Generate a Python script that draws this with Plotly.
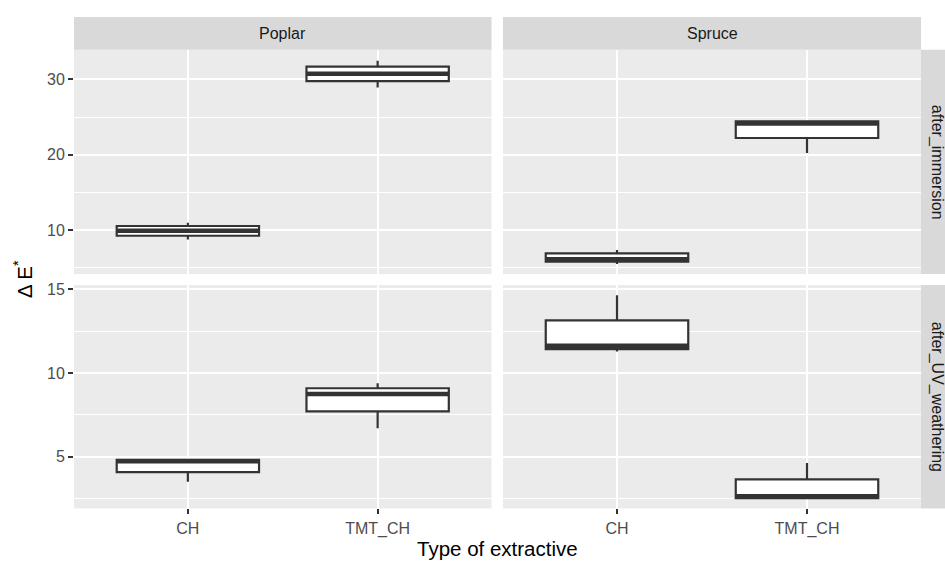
import plotly.graph_objects as go

W, H = 945, 561

# ---------------- data ----------------
species = ["Poplar", "Spruce"]
treatments = ["after_immersion", "after_UV_weathering"]
extractives = ["CH", "TMT_CH"]

# five-number summaries per panel, ordered by extractives (CH, TMT_CH)
imm_poplar_low = [8.75, 28.94]
imm_poplar_q1 = [9.24, 29.77]
imm_poplar_med = [9.90, 30.76]
imm_poplar_q3 = [10.53, 31.69]
imm_poplar_high = [10.97, 32.48]

imm_spruce_low = [5.49, 20.23]
imm_spruce_q1 = [5.80, 22.22]
imm_spruce_med = [6.13, 24.14]
imm_spruce_q3 = [6.90, 24.44]
imm_spruce_high = [7.35, 24.44]

uv_poplar_low = [3.50, 6.70]
uv_poplar_q1 = [4.07, 7.71]
uv_poplar_med = [4.72, 8.75]
uv_poplar_q3 = [4.80, 9.09]
uv_poplar_high = [4.80, 9.39]

uv_spruce_low = [11.29, 2.51]
uv_spruce_q1 = [11.43, 2.51]
uv_spruce_med = [11.64, 2.62]
uv_spruce_q3 = [13.15, 3.63]
uv_spruce_high = [14.66, 4.61]

panels = [
    # (row, col, low, q1, med, q3, high)
    (0, 0, imm_poplar_low, imm_poplar_q1, imm_poplar_med, imm_poplar_q3, imm_poplar_high),
    (0, 1, imm_spruce_low, imm_spruce_q1, imm_spruce_med, imm_spruce_q3, imm_spruce_high),
    (1, 0, uv_poplar_low, uv_poplar_q1, uv_poplar_med, uv_poplar_q3, uv_poplar_high),
    (1, 1, uv_spruce_low, uv_spruce_q1, uv_spruce_med, uv_spruce_q3, uv_spruce_high),
]

row_ranges = [[4.15, 33.95], [1.90, 15.27]]
row_dtick = [10, 5]
row_minor = [5, 2.5]

# ---------------- layout geometry (pixels) ----------------
col_px = [(74, 491.5), (503, 921)]
row_px = [(46, 272), (283, 508)]
strip_top = (13, 46)
strip_right = (921, 945)
strip_right_text_x = 937

BOX_W = 0.75

def fx(p):
    return p / W

def fy(p):
    return 1 - p / H

fig = go.Figure()
layout = dict(
    width=W, height=H,
    margin=dict(l=0, r=0, t=0, b=0),
    paper_bgcolor="white",
    plot_bgcolor="#EBEBEB",
    showlegend=False,
    font=dict(family="Liberation Sans, Arial, sans-serif", color="#4D4D4D", size=16),
)

shapes = []
annotations = []

for k, (r, c, low, q1, med, q3, high) in enumerate(panels):
    idx = k + 1
    xa = "x" if idx == 1 else f"x{idx}"
    ya = "y" if idx == 1 else f"y{idx}"
    xpos = list(range(len(extractives)))
    fig.add_trace(go.Box(
        x=xpos, q1=q1, median=med, q3=q3, lowerfence=low, upperfence=high,
        width=BOX_W, whiskerwidth=0, boxpoints=False,
        fillcolor="white", line=dict(color="#333333", width=2.2),
        xaxis=xa, yaxis=ya, hoverinfo="skip",
    ))
    # thicker median line, as ggplot draws it
    for i, m in enumerate(med):
        fig.add_trace(go.Scatter(
            x=[xpos[i] - BOX_W / 2, xpos[i] + BOX_W / 2], y=[m, m],
            mode="lines", line=dict(color="#333333", width=4.5),
            xaxis=xa, yaxis=ya, hoverinfo="skip",
        ))
    x0, x1 = col_px[c]
    y0, y1 = row_px[r]
    layout[f"xaxis{'' if idx == 1 else idx}"] = dict(
        domain=[fx(x0), fx(x1)], anchor=ya, range=[-0.6, 1.6],
        tickmode="array", tickvals=xpos, ticktext=extractives,
        showticklabels=(r == 1), ticks="outside" if r == 1 else "",
        ticklen=5, tickwidth=1.5, tickcolor="#333333",
        showgrid=True, gridcolor="white", gridwidth=2,
        zeroline=False, showline=False,
        tickfont=dict(size=16, color="#4D4D4D"),
    )
    layout[f"yaxis{'' if idx == 1 else idx}"] = dict(
        domain=[fy(y1), fy(y0)], anchor=xa, range=row_ranges[r],
        tick0=0, dtick=row_dtick[r],
        showticklabels=(c == 0), ticks="outside" if c == 0 else "",
        ticklen=5, tickwidth=1.5, tickcolor="#333333",
        showgrid=True, gridcolor="white", gridwidth=2,
        minor=dict(dtick=row_minor[r], tick0=0, showgrid=True,
                   gridcolor="white", gridwidth=1, ticks=""),
        zeroline=False, showline=False,
        tickfont=dict(size=16, color="#4D4D4D"),
    )

# strips on top (species)
for c, name in enumerate(species):
    x0, x1 = col_px[c]
    shapes.append(dict(type="rect", xref="paper", yref="paper",
                       x0=fx(x0), x1=fx(x1), y0=fy(strip_top[1]), y1=fy(strip_top[0]),
                       fillcolor="#D9D9D9", line=dict(width=0), layer="below"))
    annotations.append(dict(text=name, xref="paper", yref="paper",
                            x=fx((x0 + x1) / 2), y=fy((strip_top[0] + strip_top[1]) / 2),
                            showarrow=False, xanchor="center", yanchor="middle",
                            font=dict(size=16, color="#1A1A1A")))

# strips on right (treatments)
for r, name in enumerate(treatments):
    y0, y1 = row_px[r]
    shapes.append(dict(type="rect", xref="paper", yref="paper",
                       x0=fx(strip_right[0]), x1=fx(strip_right[1]), y0=fy(y1), y1=fy(y0),
                       fillcolor="#D9D9D9", line=dict(width=0), layer="below"))
    annotations.append(dict(text=name, xref="paper", yref="paper",
                            x=fx(strip_right_text_x), y=fy((y0 + y1) / 2),
                            showarrow=False, xanchor="center", yanchor="middle", textangle=90,
                            font=dict(size=16, color="#1A1A1A")))

# axis titles
annotations.append(dict(text="Type of extractive", xref="paper", yref="paper",
                        x=fx((col_px[0][0] + col_px[1][1]) / 2), y=fy(548),
                        showarrow=False, xanchor="center", yanchor="middle",
                        font=dict(size=20.5, color="black")))
annotations.append(dict(text="Δ E<sup>*</sup>", xref="paper", yref="paper",
                        x=fx(23), y=fy((row_px[0][0] + row_px[1][1]) / 2),
                        showarrow=False, xanchor="center", yanchor="middle", textangle=-90,
                        font=dict(size=20.5, color="black")))

layout["shapes"] = shapes
layout["annotations"] = annotations
fig.update_layout(**layout)

fig.write_html(
    "out.html",
    config={"displayModeBar": False},
    post_script="document.body.style.margin='0';document.body.style.padding='0';"
                "document.body.style.overflow='hidden';",
)
